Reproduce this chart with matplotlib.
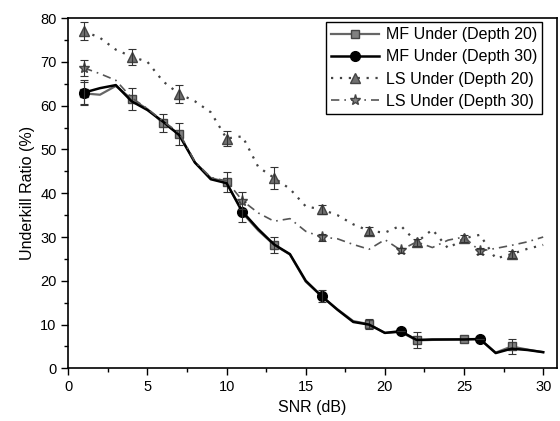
import numpy as np
import matplotlib
matplotlib.use("Agg")
import matplotlib.pyplot as plt

plt.rcParams['font.family'] = ['Liberation Sans', 'DejaVu Sans']

# SNR (dB)
snr = list(range(1, 31))

# valores
mf20 = [62.8, 62.5, 64.5, 61.5, 59.2, 56.0, 53.5, 47.0, 43.5, 42.5,
        35.5, 31.5, 28.2, 26.0, 19.8, 16.5, 13.5, 10.8, 10.1, 8.1,
        8.3, 6.4, 6.5, 6.6, 6.7, 6.7, 3.6, 5.0, 4.3, 3.7]
mf30 = [63.0, 64.0, 64.7, 61.0, 59.0, 56.3, 53.3, 47.0, 43.2, 42.3,
        35.8, 31.8, 28.3, 26.1, 20.0, 16.5, 13.4, 10.6, 10.0, 8.1,
        8.5, 6.5, 6.6, 6.6, 6.6, 6.7, 3.5, 4.5, 4.2, 3.7]
ls20 = [77.0, 75.5, 72.8, 71.2, 70.0, 65.5, 62.7, 61.0, 58.5, 52.5,
        53.0, 46.0, 43.5, 41.0, 37.0, 36.3, 35.0, 32.9, 31.4, 31.0,
        32.6, 28.8, 31.7, 27.4, 29.7, 30.5, 25.1, 26.1, 27.3, 28.2]
ls30 = [68.6, 67.3, 65.8, 61.8, 59.3, 56.4, 53.8, 47.2, 43.6, 42.8,
        38.3, 35.5, 33.6, 34.2, 31.3, 30.0, 29.6, 28.3, 27.2, 29.4,
        27.0, 28.9, 27.6, 29.3, 30.0, 26.8, 27.4, 28.1, 28.9, 30.0]

# puntos con marcador y barras de error
mf20_marks = [1, 4, 6, 7, 10, 13, 19, 22, 25, 28]
mf20_err = [2.5, 2.5, 2.0, 2.5, 2.3, 1.8, 1.2, 1.8, 0.0, 1.8]
mf30_marks = [1, 11, 16, 21, 26]
mf30_err = [2.8, 2.3, 1.3, 0.0, 0.0]
ls20_marks = [1, 4, 7, 10, 13, 16, 19, 22, 25, 28]
ls20_err = [2.0, 1.8, 2.0, 1.8, 2.5, 1.0, 1.0, 0.8, 0.8, 0.8]
ls30_marks = [1, 11, 16, 21, 26]
ls30_err = [1.8, 2.0, 0.8, 0.6, 0.6]

series = [
    ("MF Under (Depth 20)", mf20, mf20_marks, mf20_err,
     dict(color="#666666", ls="-", lw=1.6, marker="s", ms=6, mfc="#808080", mec="#444444")),
    ("MF Under (Depth 30)", mf30, mf30_marks, mf30_err,
     dict(color="black", ls="-", lw=1.8, marker="o", ms=7, mfc="black", mec="black")),
    ("LS Under (Depth 20)", ls20, ls20_marks, ls20_err,
     dict(color="#444444", ls=(0, (1, 3)), lw=1.6, marker="^", ms=7, mfc="#707070", mec="#444444")),
    ("LS Under (Depth 30)", ls30, ls30_marks, ls30_err,
     dict(color="#555555", ls=(0, (5, 3, 1, 3)), lw=1.2, marker="*", ms=8, mfc="#808080", mec="#444444")),
]

fig = plt.figure(figsize=(5.6, 4.21), dpi=100)
ax = fig.add_axes([0.122, 0.125, 0.872, 0.832])

for label, vals, marks, err, st in series:
    idx = [snr.index(m) for m in marks]
    ax.plot(snr, vals, label=label, markevery=idx, **st)
    ax.errorbar(marks, [vals[i] for i in idx], yerr=err, fmt="none",
                ecolor="#333333", elinewidth=0.8, capsize=3, capthick=0.8)

ax.set_xlim(0, 30.85)
ax.set_ylim(0, 80)
ax.set_xticks(range(0, 31, 5))
ax.set_xticks(np.arange(0, 31, 2.5), minor=True)
ax.set_yticks(range(0, 81, 10))
ax.set_yticks(range(0, 81, 5), minor=True)
ax.tick_params(which="major", direction="out", length=5, width=1, labelsize=10.5)
ax.tick_params(which="minor", direction="out", length=3, width=1)
for s in ax.spines.values():
    s.set_linewidth(1.2)

ax.set_xlabel("SNR (dB)", fontsize=11.5)
ax.set_ylabel("Underkill Ratio (%)", fontsize=11.5)

leg = ax.legend(loc="upper right", bbox_to_anchor=(0.971, 0.99), borderaxespad=0,
                fontsize=11.5, frameon=True, fancybox=False, edgecolor="black",
                framealpha=1, handlelength=3, labelspacing=0.45, borderpad=0.35,
                handletextpad=0.4)
leg.get_frame().set_linewidth(1.0)

fig.savefig("out.png", dpi=100)
